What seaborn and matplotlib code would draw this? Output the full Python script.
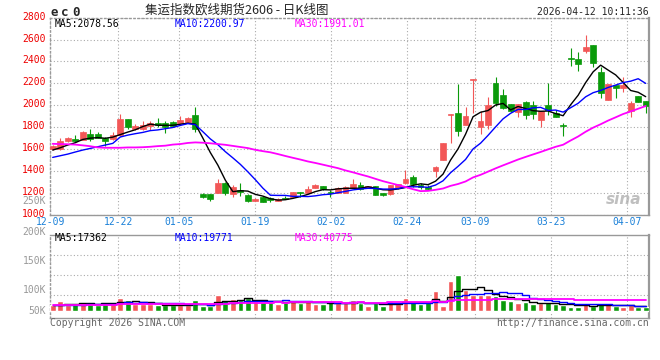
import matplotlib
matplotlib.use('Agg')
import matplotlib.pyplot as plt
import matplotlib.transforms as mtransforms
import numpy as np
import pandas as pd
import seaborn as sns

# daily bars 12-09 .. 04-09 (prices)
opens = [1599, 1602, 1672, 1690, 1681, 1736, 1736, 1697, 1688, 1724,
         1873, 1782, 1782, 1806, 1839, 1836, 1848, 1836, 1843, 1910,
         1188, 1185, 1200, 1286, 1188, 1222, 1179, 1124, 1163, 1149,
         1127, 1154, 1163, 1206, 1200, 1246, 1261, 1209, 1200, 1200,
         1243, 1270, 1243, 1261, 1194, 1185, 1240, 1286, 1346, 1268,
         1249, 1401, 1499, 1907, 1928, 1821, 2229, 1803, 1821, 2199,
         2089, 2010, 1937, 2028, 1998, 1867, 1998, 1925, 1815, 2428,
         2421, 2497, 2549, 2305, 2049, 2181, 2153, 1949, 2083, 2037]
highs = [1638, 1702, 1706, 1727, 1760, 1782, 1754, 1706, 1752, 1916,
         1876, 1827, 1858, 1852, 1879, 1858, 1852, 1903, 1890, 1985,
         1200, 1190, 1325, 1300, 1270, 1291, 1185, 1148, 1167, 1163,
         1150, 1167, 1208, 1210, 1261, 1278, 1265, 1225, 1250, 1260,
         1325, 1298, 1265, 1265, 1200, 1274, 1281, 1407, 1360, 1286,
         1270, 1442, 1655, 1922, 2193, 1980, 2242, 1946, 2077, 2254,
         2144, 2015, 2015, 2040, 2037, 1948, 2199, 1955, 1839, 2519,
         2488, 2640, 2553, 2345, 2197, 2185, 2257, 2037, 2087, 2040]
lows = [1592, 1590, 1668, 1668, 1678, 1675, 1697, 1626, 1684, 1715,
        1784, 1770, 1775, 1773, 1797, 1742, 1806, 1833, 1840, 1757,
        1149, 1127, 1195, 1179, 1163, 1173, 1118, 1120, 1112, 1118,
        1124, 1140, 1160, 1163, 1197, 1243, 1228, 1163, 1197, 1195,
        1240, 1228, 1240, 1179, 1173, 1182, 1237, 1282, 1255, 1231,
        1228, 1346, 1495, 1657, 1718, 1817, 1931, 1736, 1779, 1992,
        1965, 1937, 1889, 1876, 1876, 1803, 1907, 1890, 1718, 2360,
        2314, 2479, 2348, 2062, 2045, 2062, 2117, 1894, 2027, 1931]
closes = [1629, 1675, 1702, 1672, 1757, 1688, 1700, 1672, 1724, 1873,
          1803, 1806, 1818, 1836, 1821, 1800, 1809, 1864, 1885, 1779,
          1163, 1145, 1291, 1195, 1255, 1206, 1127, 1142, 1115, 1133,
          1145, 1145, 1204, 1197, 1234, 1273, 1231, 1194, 1246, 1255,
          1279, 1231, 1261, 1182, 1182, 1270, 1277, 1328, 1279, 1252,
          1231, 1437, 1651, 1919, 1766, 1900, 2238, 1855, 1998, 2019,
          1971, 1943, 2010, 1907, 1919, 1943, 1955, 1894, 1808, 2420,
          2378, 2533, 2387, 2113, 2193, 2159, 2186, 2022, 2031, 1992]
volumes = [21000, 38200, 23400, 29600, 29600, 29600, 23400, 29600, 33300, 48100,
           40700, 25900, 25900, 25900, 21000, 21000, 21000, 21000, 21000, 40700,
           18500, 18500, 59200, 40700, 43200, 40700, 48100, 35800, 33300, 33300,
           25900, 33300, 40700, 28400, 37000, 25900, 25900, 33300, 28400, 28400,
           40700, 29600, 18500, 29600, 18500, 37000, 24700, 48100, 33300, 25900,
           33300, 74000, 18500, 112200, 133200, 77700, 59200, 59200, 59200, 55500,
           40700, 38200, 29600, 32100, 25900, 29600, 33300, 25900, 23400, 14800,
           16000, 25900, 18500, 29600, 25900, 18500, 16000, 21000, 16000, 16000]

# moving-average values at the start of the window (history not shown on the chart)
ma5_head = [1590, 1611, 1636, 1657]
ma10_head = [1523, 1538, 1553, 1572, 1590, 1605, 1620, 1636, 1651]
ma30_head = [1647, 1645, 1643, 1640, 1633, 1625, 1614, 1611, 1611, 1611,
             1614, 1614, 1616, 1620, 1626, 1630, 1640, 1645, 1655, 1660,
             1657, 1652, 1645, 1638, 1628, 1618, 1608, 1592, 1580]
vol_ma5_head = [21000, 23500, 25200, 27000]
vol_ma10_head = [21000, 21500, 22200, 23000, 23800, 24600, 25500, 26400, 27300]
vol_ma30_head = [23400, 23400, 23500, 23500, 23600, 23700, 23800, 23900, 24000, 24200,
                 24400, 24500, 24600, 24800, 25000, 25100, 25300, 25500, 25700, 25900,
                 26200, 26500, 26900, 27300, 27800, 28400, 29000, 29700, 30400]

date_labels = ['12-09', '12-22', '01-05', '01-19', '02-02', '02-24', '03-09', '03-23', '04-07']
date_pos = [-0.35, 8.74, 16.87, 26.95, 37.08, 47.16, 56.26, 66.39, 76.55]
price_ticks = [1000, 1200, 1400, 1600, 1800, 2000, 2200, 2400, 2600, 2800]
vol_grid = [59200, 133200, 207200]
vol_labels = ['250K', '200K', '150K', '100K', '50K']

RED = '#f25757'
GREEN = '#0a9a0a'
MONO = 'DejaVu Sans Mono'

df = pd.DataFrame({'open': opens, 'high': highs, 'low': lows, 'close': closes, 'volume': volumes})
df['idx'] = np.arange(len(df))
df['dir'] = np.where(df['close'] >= df['open'], 'up', 'down')
for n, head in [(5, ma5_head), (10, ma10_head), (30, ma30_head)]:
    m = df['close'].rolling(n).mean()
    m.iloc[:n - 1] = head
    df[f'ma{n}'] = m
for n, head in [(5, vol_ma5_head), (10, vol_ma10_head), (30, vol_ma30_head)]:
    m = df['volume'].rolling(n).mean()
    m.iloc[:n - 1] = head
    df[f'vma{n}'] = m

sns.set_style('white')
plt.rcParams['font.family'] = ['Noto Sans CJK SC', 'DejaVu Sans']

W, H = 660, 360
fig = plt.figure(figsize=(6.6, 3.6), dpi=100)


def box(l, t, r, b):
    return [l / W, 1 - b / H, (r - l) / W, (b - t) / H]


def ftext(x, y, s, **kw):
    kw.setdefault('family', MONO)
    kw.setdefault('fontsize', 7)
    kw.setdefault('va', 'center')
    fig.text(x / W, 1 - y / H, s, **kw)


ax = fig.add_axes(box(50, 17.7, 649, 214.6))
axv = fig.add_axes(box(50, 235, 649, 318))

# candles
colors = np.where(df['dir'] == 'up', RED, GREEN)
ax.vlines(df['idx'], df['low'], df['high'], colors=colors, lw=0.8, zorder=3)
ax.bar(df['idx'], (df['close'] - df['open']).abs(), bottom=np.minimum(df['open'], df['close']),
       width=0.78, color=colors, edgecolor=colors, lw=0.5, zorder=4)
sns.lineplot(data=df, x='idx', y='ma5', color='black', lw=1.0, ax=ax, zorder=5)
sns.lineplot(data=df, x='idx', y='ma10', color='#0000ff', lw=1.0, ax=ax, zorder=5)
sns.lineplot(data=df, x='idx', y='ma30', color='#ff00ff', lw=1.3, ax=ax, zorder=5)

# volume
sns.barplot(data=df, x='idx', y='volume', hue='dir', palette={'up': RED, 'down': GREEN},
            dodge=False, width=0.76, saturation=1, errorbar=None, legend=False, ax=axv, zorder=3)
sns.lineplot(data=df, x='idx', y='vma5', color='black', lw=1.0, ax=axv, drawstyle='steps-mid', zorder=5)
sns.lineplot(data=df, x='idx', y='vma10', color='#0000ff', lw=1.0, ax=axv, drawstyle='steps-mid', zorder=5)
sns.lineplot(data=df, x='idx', y='vma30', color='#ff00ff', lw=1.3, ax=axv, drawstyle='steps-mid', zorder=5)

grid_kw = dict(color='#aaaaaa', ls=(0, (1, 2)), lw=0.8)
for a in (ax, axv):
    a.set_xlim(-0.36, 79.44)
    a.set_xticks(date_pos)
    a.grid(True, **grid_kw)
    a.set_axisbelow(True)
    a.set_xlabel('')
    a.set_ylabel('')
    a.tick_params(length=0)
    for side in a.spines:
        a.spines[side].set_color('#999999')
        a.spines[side].set_linewidth(1.0)
    a.spines['left'].set_linestyle((0, (1, 2)))
    a.spines['right'].set_linewidth(1.6)

ax.spines['top'].set_linestyle((0, (1, 2)))
ax.set_ylim(1000, 2800)
ax.set_yticks(price_ticks)
ax.set_yticklabels([str(v) for v in price_ticks], family=MONO, fontsize=7, color='#ee0000')
ax.tick_params(axis='y', pad=3)
offset = mtransforms.ScaledTranslation(0, 0.02, fig.dpi_scale_trans)
for lab in ax.get_yticklabels():
    lab.set_transform(lab.get_transform() + offset)
ax.set_xticklabels(date_labels, family=MONO, fontsize=7, color='#1a80d8')
ax.tick_params(axis='x', pad=1.5)

axv.set_ylim(-25900, 281200)
axv.set_yticks(vol_grid)
axv.set_yticklabels([])
axv.set_xticklabels([])

# header
for ch, x in zip('ec0', [54, 64.7, 76.3]):
    ftext(x, 15.7, ch, fontsize=9, weight='bold', ha='center', va='baseline')
ftext(237, 10.5, '集运指数欧线期货2606 - 日K线图', family=['Noto Sans CJK SC', 'DejaVu Sans'],
      fontsize=9, ha='center')
ftext(649, 11.7, '2026-04-12 10:11:36', ha='right')

# MA legends
ftext(54.5, 24, 'MA5:2078.56', color='black')
ftext(174.5, 24, 'MA10:2200.97', color='#0000ff')
ftext(295, 24, 'MA30:1991.01', color='#ff00ff')
ftext(54.5, 238.3, 'MA5:17362', color='black')
ftext(174.5, 238.3, 'MA10:19771', color='#0000ff')
ftext(295, 238.3, 'MA30:40775', color='#ff00ff')

# volume axis labels
for s, y in zip(vol_labels, [200.7, 232, 260.7, 290, 310.7]):
    ftext(46, y, s, color='#999999', ha='right')

# footer and watermark
ftext(50, 323.3, 'Copyright 2026 SINA.COM', color='#666666', ha='left')
ftext(649, 323.3, 'http://finance.sina.com.cn', color='#666666', ha='right')
ftext(624, 199, 'sina', family='DejaVu Sans', fontsize=11, weight='bold', style='italic',
      color='#b0b0b0', alpha=0.8, ha='center')

fig.savefig('out.png', dpi=100)
